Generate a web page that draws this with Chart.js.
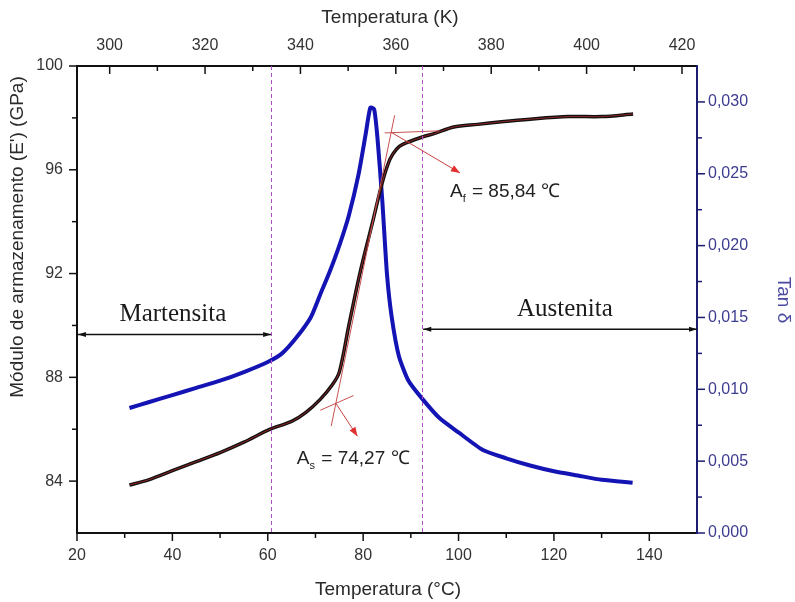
<!DOCTYPE html>
<html>
<head>
<meta charset="utf-8">
<script src="https://cdn.jsdelivr.net/npm/chart.js@4.4.1/dist/chart.umd.min.js"></script>
<style>
  html, body { margin: 0; padding: 0; background: #fff; }
  #wrap { width: 795px; height: 602px; }
</style>
</head>
<body>
<div id="wrap"><canvas id="chart" width="795" height="602"></canvas></div>
<script>
// Storage modulus E' (GPa) vs temperature (°C)
const tempE = [31, 35, 40, 45, 50, 55, 60.5, 65, 68, 71, 73.5, 75, 77, 79.3, 82, 84, 85.6, 87, 88.3, 92.5, 95, 99, 104, 109, 115, 123, 130, 136.6];
const modulusE = [83.85, 84.05, 84.4, 84.75, 85.1, 85.5, 86.0, 86.3, 86.65, 87.15, 87.7, 88.2, 90.0, 92.0, 94.0, 95.5, 96.4, 96.8, 96.98, 97.27, 97.4, 97.65, 97.75, 97.85, 97.95, 98.05, 98.05, 98.15];

// Tan delta vs temperature (°C)
const tempTan = [31, 35, 40, 45, 50, 55, 60, 63, 66, 69, 71, 73, 75, 77, 79, 80.5, 81.5, 82.3, 83, 84, 85, 86, 87.5, 89.5, 92.5, 96, 100, 105, 110, 115, 120, 125, 130, 136.5];
const tanDelta = [0.0087, 0.0091, 0.0096, 0.0101, 0.0106, 0.0112, 0.0119, 0.0125, 0.0136, 0.0150, 0.0166, 0.0182, 0.0200, 0.0221, 0.0249, 0.0277, 0.0296, 0.0295, 0.0275, 0.0232, 0.0180, 0.0150, 0.0123, 0.0106, 0.0093, 0.0080, 0.0070, 0.0058, 0.0052, 0.0047, 0.0043, 0.0040, 0.0037, 0.0035];

// tangent construction (As / Af)
const tangentSteep = [[73.3, 86.12], [86.6, 98.1]];
const tangentLow = [[71, 86.73], [78, 87.3]];
const tangentHigh = [[84.5, 97.42], [96, 97.5]];
const arrowAs = [[74.27, 87.0], [78.8, 85.73]];
const arrowAf = [[85.84, 97.45], [100.3, 95.88]];

// phase regions
const phaseLimits = [60.7, 92.3];
const martensitaSpan = [[20.2, 89.65], [60.7, 89.65]];
const austenitaSpan = [[92.6, 89.85], [150, 89.85]];

// ticks
const xTicks = [20, 40, 60, 80, 100, 120, 140];
const xMinor = [30, 50, 70, 90, 110, 130];
const kTicks = [300, 320, 340, 360, 380, 400, 420];
const kMinor = [310, 330, 350, 370, 390, 410];
const yTicks = [84, 88, 92, 96, 100];
const yMinor = [86, 90, 94, 98];
const y2Ticks = [0, 0.005, 0.010, 0.015, 0.020, 0.025, 0.030];
const y2Minor = [0.0025, 0.0075, 0.0125, 0.0175, 0.0225, 0.0275];

const SANS = "'Liberation Sans', Arial, sans-serif";
const SERIF = "'Liberation Serif', 'Times New Roman', serif";
const toXY = arr => arr.map(p => ({ x: p[0], y: p[1] }));

function fixTicks(list) {
    return function(scale) { scale.ticks = list.map(v => ({ value: v })); };
}

const decor = {
    id: 'decor',
    afterDatasetsDraw(chart) {
        const { ctx, chartArea: a, scales } = chart;
        const sx = scales.x, sy = scales.y;
        const line = (x1, y1, x2, y2) => { ctx.beginPath(); ctx.moveTo(x1, y1); ctx.lineTo(x2, y2); ctx.stroke(); };
        const head = (x1, y1, x2, y2, len, wid) => {
            const ang = Math.atan2(y2 - y1, x2 - x1);
            ctx.beginPath();
            ctx.moveTo(x2, y2);
            ctx.lineTo(x2 - len * Math.cos(ang) + wid * Math.sin(ang), y2 - len * Math.sin(ang) - wid * Math.cos(ang));
            ctx.lineTo(x2 - len * Math.cos(ang) - wid * Math.sin(ang), y2 - len * Math.sin(ang) + wid * Math.cos(ang));
            ctx.closePath();
            ctx.fill();
        };
        ctx.save();

        // dashed phase limits
        ctx.strokeStyle = '#b050c8';
        ctx.lineWidth = 1;
        ctx.setLineDash([4, 3]);
        phaseLimits.forEach(t => { const px = Math.round(sx.getPixelForValue(t)) + 0.5; line(px, a.top, px, a.bottom); });
        ctx.setLineDash([]);

        // red arrows
        ctx.strokeStyle = '#c84040';
        ctx.fillStyle = '#e03030';
        [arrowAs, arrowAf].forEach(arr => {
            const x1 = sx.getPixelForValue(arr[0][0]), y1 = sy.getPixelForValue(arr[0][1]);
            const x2 = sx.getPixelForValue(arr[1][0]), y2 = sy.getPixelForValue(arr[1][1]);
            line(x1, y1, x2, y2);
            head(x1, y1, x2, y2, 9, 3.5);
        });

        // phase double arrows
        ctx.strokeStyle = '#111';
        ctx.fillStyle = '#111';
        ctx.lineWidth = 1.5;
        [martensitaSpan, austenitaSpan].forEach(arr => {
            const x1 = sx.getPixelForValue(arr[0][0]), y1 = sy.getPixelForValue(arr[0][1]);
            const x2 = sx.getPixelForValue(arr[1][0]), y2 = sy.getPixelForValue(arr[1][1]);
            line(x1, y1, x2, y2);
            head(x1, y1, x2, y2, 8, 2.5);
            head(x2, y2, x1, y1, 8, 2.5);
        });
        ctx.font = '25px ' + SERIF;
        ctx.fillStyle = '#1a1a1a';
        ctx.textAlign = 'center';
        ctx.textBaseline = 'middle';
        ctx.fillText('Martensita', sx.getPixelForValue(40.1), sy.getPixelForValue(90.42));
        ctx.fillText('Austenita', sx.getPixelForValue(122.3), sy.getPixelForValue(90.6));

        // As / Af labels
        const subLabel = (sub, rest, t, e) => {
            let px = sx.getPixelForValue(t);
            const py = sy.getPixelForValue(e);
            ctx.textAlign = 'left';
            ctx.textBaseline = 'middle';
            ctx.fillStyle = '#222';
            ctx.font = '19px ' + SANS;
            ctx.fillText('A', px, py);
            px += ctx.measureText('A').width;
            ctx.font = '11px ' + SANS;
            ctx.fillText(sub, px, py + 7);
            px += ctx.measureText(sub).width + 1;
            ctx.font = '19px ' + SANS;
            ctx.fillText(rest, px, py);
        };
        subLabel('f', ' = 85,84 \u2103', 98.2, 95.15);
        subLabel('s', ' = 74,27 \u2103', 66.1, 84.85);

        // tick marks
        ctx.lineWidth = 1.5;
        const drawTicks = (scale, majors, minors, color) => {
            ctx.strokeStyle = color;
            const pos = scale.position;
            const mark = (v, len) => {
                const p = scale.getPixelForValue(v);
                if (pos === 'bottom') line(p, a.bottom, p, a.bottom + len);
                else if (pos === 'top') line(p, a.top, p, a.top + len);
                else if (pos === 'left') line(a.left, p, a.left - len, p);
                else line(a.right, p, a.right + len, p);
            };
            majors.forEach(v => mark(v, 8));
            minors.forEach(v => mark(v, 5));
        };
        drawTicks(sx, xTicks, xMinor, '#111');
        drawTicks(scales.xk, kTicks, kMinor, '#111');
        drawTicks(sy, yTicks, yMinor, '#111');
        drawTicks(scales.y2, y2Ticks, y2Minor, '#1c1c70');

        // axis titles
        ctx.textAlign = 'center';
        ctx.textBaseline = 'middle';
        ctx.font = '19px ' + SANS;
        ctx.fillStyle = '#2a2a2a';
        ctx.fillText('Temperatura (K)', 390, 18);
        ctx.fillText('Temperatura (\u00B0C)', 388, 590);
        ctx.save();
        ctx.translate(18, 237);
        ctx.rotate(-Math.PI / 2);
        ctx.fillText("M\u00F3dulo de armazenamento (E') (GPa)", 0, 0);
        ctx.restore();
        ctx.save();
        ctx.translate(783, 300);
        ctx.rotate(Math.PI / 2);
        ctx.fillStyle = '#4a4aa0';
        ctx.fillText('Tan \u03B4', 0, 0);
        ctx.restore();

        ctx.restore();
    }
};

const tickFont = { family: SANS, size: 16 };

new Chart(document.getElementById('chart'), {
    type: 'line',
    data: {
        datasets: [
            {
                label: "E'",
                data: tempE.map((t, i) => ({ x: t, y: modulusE[i] })),
                yAxisID: 'y',
                borderColor: '#111',
                borderWidth: 3.5,
                pointRadius: 0,
                tension: 0.3,
                order: 2
            },
            {
                label: 'fit',
                data: tempE.map((t, i) => ({ x: t, y: modulusE[i] })),
                yAxisID: 'y',
                borderColor: 'rgba(170, 40, 40, 0.8)',
                borderWidth: 1,
                pointRadius: 0,
                tension: 0.3,
                order: 1
            },
            {
                label: 'tan',
                data: tempTan.map((t, i) => ({ x: t, y: tanDelta[i] })),
                yAxisID: 'y2',
                borderColor: '#1414b4',
                backgroundColor: '#1414b4',
                borderWidth: 4,
                pointRadius: 0,
                tension: 0.2,
                order: 3
            },
            {
                label: 'tangent steep',
                data: toXY(tangentSteep),
                yAxisID: 'y',
                borderColor: '#c85050',
                borderWidth: 1,
                pointRadius: 0,
                order: 0
            },
            {
                label: 'tangent low',
                data: toXY(tangentLow),
                yAxisID: 'y',
                borderColor: '#c85050',
                borderWidth: 1,
                pointRadius: 0,
                order: 0
            },
            {
                label: 'tangent high',
                data: toXY(tangentHigh),
                yAxisID: 'y',
                borderColor: '#c85050',
                borderWidth: 1,
                pointRadius: 0,
                order: 0
            }
        ]
    },
    options: {
        responsive: false,
        animation: false,
        layout: { padding: 0 },
        plugins: {
            legend: { display: false },
            tooltip: { enabled: false }
        },
        scales: {
            x: {
                type: 'linear',
                position: 'bottom',
                min: 20,
                max: 150,
                afterBuildTicks: fixTicks(xTicks),
                afterFit: s => { s.height = 69; },
                grid: { display: false, drawTicks: false },
                border: { display: true, color: '#111', width: 2 },
                ticks: { font: tickFont, color: '#333', padding: 13, maxRotation: 0, callback: v => String(v) }
            },
            xk: {
                type: 'linear',
                position: 'top',
                min: 293.15,
                max: 423.15,
                afterBuildTicks: fixTicks(kTicks),
                afterFit: s => { s.height = 66; },
                grid: { display: false, drawTicks: false },
                border: { display: true, color: '#111', width: 2 },
                ticks: { font: tickFont, color: '#333', padding: 11, maxRotation: 0, callback: v => String(v) }
            },
            y: {
                type: 'linear',
                position: 'left',
                min: 82,
                max: 100,
                afterBuildTicks: fixTicks(yTicks),
                afterFit: s => { s.width = 77; },
                grid: { display: false, drawTicks: false },
                border: { display: true, color: '#111', width: 2 },
                ticks: { font: tickFont, color: '#333', padding: 14, callback: v => String(v) }
            },
            y2: {
                type: 'linear',
                position: 'right',
                min: 0,
                max: 0.0325,
                afterBuildTicks: fixTicks(y2Ticks),
                afterFit: s => { s.width = 98; },
                grid: { display: false, drawTicks: false },
                border: { display: true, color: '#1c1c70', width: 2 },
                ticks: { font: tickFont, color: '#3c3c90', padding: 11, callback: v => v.toFixed(3).replace('.', ',') }
            }
        }
    },
    plugins: [decor]
});
</script>
</body>
</html>
